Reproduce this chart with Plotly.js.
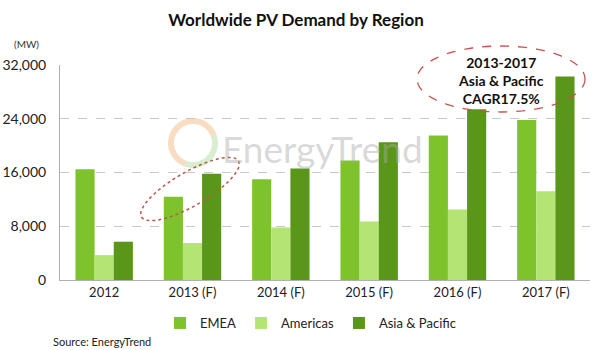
<!DOCTYPE html>
<html>
<head>
<meta charset="utf-8">
<script src="https://cdn.plot.ly/plotly-3.0.1.min.js"></script>
<style>html,body{margin:0;padding:0;background:#fff;}#chart{width:600px;height:350px;}</style>
</head>
<body>
<div id="chart"></div>
<script>
var categories = ["2012", "2013 (F)", "2014 (F)", "2015 (F)", "2016 (F)", "2017 (F)"];
var emea = [16500, 12400, 15000, 17800, 21500, 23800];
var americas = [3700, 5500, 7800, 8700, 10500, 13200];
var asiaPacific = [5700, 15800, 16600, 20500, 25400, 30300];
var yTickVals = [0, 8000, 16000, 24000, 32000];
var yTickText = ["0", "8,000", "16,000", "24,000", "32,000"];

// plot area in pixels (for decorative shapes)
var L = 60, R = 590, T = 65, B = 280;
function px(x) { return (x - L) / (R - L); }
function py(y) { return (B - y) / (B - T); }
function ellipsePath(cx, cy, a, b, angDeg) {
  var th = angDeg * Math.PI / 180, d = "";
  for (var i = 0; i <= 72; i++) {
    var t = i / 72 * 2 * Math.PI;
    var x = cx + a * Math.cos(t) * Math.cos(th) - b * Math.sin(t) * Math.sin(th);
    var y = cy + a * Math.cos(t) * Math.sin(th) + b * Math.sin(t) * Math.cos(th);
    d += (i === 0 ? "M" : "L") + px(x).toFixed(4) + "," + py(y).toFixed(4);
  }
  return d + "Z";
}
function arcPath(cx, cy, r, a0, a1) {
  var d = "";
  for (var i = 0; i <= 40; i++) {
    var t = (a0 + (a1 - a0) * i / 40) * Math.PI / 180;
    var x = cx + r * Math.cos(t), y = cy - r * Math.sin(t);
    d += (i === 0 ? "M" : "L") + px(x).toFixed(4) + "," + py(y).toFixed(4);
  }
  return d;
}

var font = "Lato, 'Open Sans', sans-serif";
var traces = [
  {type: "bar", name: "EMEA", x: categories, y: emea, marker: {color: "#7fc32c"}},
  {type: "bar", name: "Americas", x: categories, y: americas, marker: {color: "#b3e474"}},
  {type: "bar", name: "Asia & Pacific", x: categories, y: asiaPacific, marker: {color: "#5a9619"}}
];

var layout = {
  width: 600, height: 350,
  margin: {l: L, r: 600 - R, t: T, b: 350 - B},
  paper_bgcolor: "#ffffff", plot_bgcolor: "#ffffff",
  font: {family: font, size: 12, color: "#222"},
  title: {text: "<b>Worldwide PV Demand by Region</b>", x: px(296), xref: "paper", xanchor: "center",
          y: 1 - 20 / 350, yanchor: "middle",
          font: {family: font, size: 17, color: "#111"}},
  barmode: "group", bargap: 0.35, bargroupgap: 0,
  xaxis: {type: "category", ticks: "", showline: true, linecolor: "#b0b0b0",
          linewidth: 1, showgrid: false, zeroline: false,
          tickfont: {family: font, size: 13, color: "#222"}},
  yaxis: {range: [0, 32000], tickvals: yTickVals, ticktext: yTickText, ticks: "",
          showline: true, linecolor: "#b0b0b0", linewidth: 1,
          showgrid: true, gridcolor: "#c8c8c8", griddash: "dash", gridwidth: 1, zeroline: false,
          tickfont: {family: font, size: 14, color: "#222"}, ticklabelstandoff: 10},
  legend: {orientation: "h", x: px(160), xanchor: "left", y: py(323), yanchor: "middle",
           font: {family: font, size: 13, color: "#222"}, traceorder: "normal", itemwidth: 30},
  annotations: [
    {xref: "paper", yref: "paper", x: px(12), y: py(44), xanchor: "left", yanchor: "middle",
     text: "(MW)", showarrow: false, font: {family: font, size: 10, color: "#333"}},
    {xref: "paper", yref: "paper", x: px(51), y: py(341), xanchor: "left", yanchor: "middle",
     text: "Source: EnergyTrend", showarrow: false, font: {family: font, size: 11, color: "#222"}},
    {xref: "paper", yref: "paper", x: px(501), y: py(80), xanchor: "center", yanchor: "middle",
     text: "<b>2013-2017<br>Asia & Pacific<br>CAGR17.5%</b>", showarrow: false,
     font: {family: font, size: 14, color: "#111"}},
    {xref: "paper", yref: "paper", x: px(220), y: py(148), xanchor: "left", yanchor: "middle",
     text: "EnergyTrend", showarrow: false, font: {family: font, size: 37, color: "rgba(170,170,170,0.45)"}}
  ],
  shapes: [
    {type: "path", xref: "paper", yref: "paper", path: arcPath(193, 143, 22, 20, 250), layer: "below",
     line: {color: "rgba(240,180,120,0.45)", width: 6}},
    {type: "path", xref: "paper", yref: "paper", path: arcPath(193, 143, 22, 250, 380), layer: "below",
     line: {color: "rgba(170,215,150,0.45)", width: 6}},
    {type: "path", xref: "paper", yref: "paper", path: ellipsePath(501, 79, 84, 33, 0),
     line: {color: "#c9504c", width: 1.3, dash: "dash"}},
    {type: "path", xref: "paper", yref: "paper", path: ellipsePath(190, 189, 56, 17, -30),
     line: {color: "#b9584a", width: 1.5, dash: "dot"}}
  ],
  showlegend: true
};

Plotly.newPlot("chart", traces, layout, {displayModeBar: false, staticPlot: true});
</script>
</body>
</html>
